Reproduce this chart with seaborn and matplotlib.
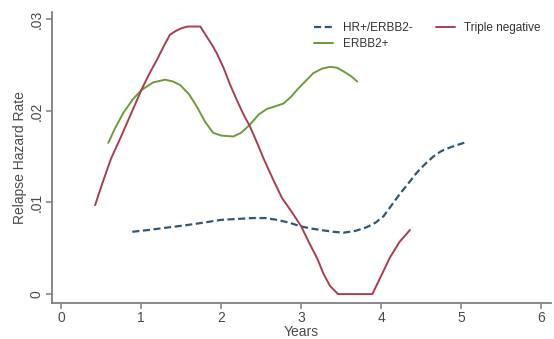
import pandas as pd
import seaborn as sns
import matplotlib.pyplot as plt
from matplotlib.lines import Line2D

# values
hr_years = [0.89, 1.10, 1.36, 1.55, 1.78, 2.00, 2.20, 2.40, 2.55, 2.70, 2.85, 2.99, 3.10, 3.24,
            3.40, 3.53, 3.68, 3.82, 3.93, 4.03, 4.13, 4.24, 4.35, 4.45, 4.55, 4.65, 4.75, 4.86,
            4.96, 5.07]
hr_rate = [0.0068, 0.0070, 0.0073, 0.0075, 0.0078, 0.0081, 0.0082, 0.0083, 0.0083, 0.0081, 0.0078,
           0.0074, 0.0072, 0.0070, 0.0068, 0.0067, 0.0069, 0.0073, 0.0078, 0.0085, 0.0097, 0.0110,
           0.0122, 0.0133, 0.0142, 0.0150, 0.0156, 0.0160, 0.0163, 0.0166]

erbb2_years = [0.59, 0.68, 0.78, 0.90, 1.01, 1.15, 1.30, 1.40, 1.49, 1.60, 1.70, 1.80, 1.90, 2.00,
               2.15, 2.25, 2.36, 2.47, 2.57, 2.68, 2.78, 2.87, 2.95, 3.05, 3.15, 3.26, 3.36, 3.45,
               3.53, 3.62, 3.70]
erbb2_rate = [0.0165, 0.0182, 0.0198, 0.0213, 0.0223, 0.0231, 0.0234, 0.0232, 0.0228, 0.0218,
              0.0204, 0.0188, 0.0176, 0.0173, 0.0172, 0.0176, 0.0185, 0.0196, 0.0202, 0.0205,
              0.0208, 0.0215, 0.0223, 0.0232, 0.0241, 0.0246, 0.0248, 0.0247, 0.0243, 0.0238,
              0.0232]

tn_years = [0.425, 0.52, 0.625, 0.75, 0.88, 1.01, 1.10, 1.20, 1.28, 1.36, 1.43, 1.50, 1.58, 1.74,
            1.82, 1.90, 1.95, 2.03, 2.11, 2.20, 2.28, 2.36, 2.45, 2.53, 2.65, 2.76, 2.88, 3.00,
            3.10, 3.20, 3.28, 3.36, 3.46, 3.89, 4.00, 4.11, 4.23, 4.36]
tn_rate = [0.0097, 0.0122, 0.0148, 0.0172, 0.0198, 0.0224, 0.0240, 0.0256, 0.0270, 0.0283, 0.0287,
           0.0290, 0.0292, 0.0292, 0.0281, 0.0270, 0.0262, 0.0247, 0.0229, 0.0211, 0.0196, 0.0183,
           0.0165, 0.0148, 0.0125, 0.0105, 0.0090, 0.0074, 0.0056, 0.0039, 0.0022, 0.0009, 0.0,
           0.0, 0.0020, 0.0040, 0.0057, 0.0070]

labels = ["HR+/ERBB2-", "ERBB2+", "Triple negative"]
colors = ["#2f5878", "#6e9a3e", "#a63f4f"]

sns.set_style("white")
plt.rcParams["font.family"] = ["Liberation Sans", "DejaVu Sans"]

fig = plt.figure(figsize=(5.54, 3.39), dpi=100)
ax = fig.add_axes([0.094, 0.106, 0.901, 0.859])

sns.lineplot(x=hr_years, y=hr_rate, ax=ax, color=colors[0], linewidth=1.6,
             linestyle=(0, (3.2, 1.6)))
sns.lineplot(x=erbb2_years, y=erbb2_rate, ax=ax, color=colors[1], linewidth=1.4)
sns.lineplot(x=tn_years, y=tn_rate, ax=ax, color=colors[2], linewidth=1.4)

ax.set_xlim(-0.1125, 6.125)
ax.set_ylim(-0.00098, 0.0308)
ax.set_xticks([0, 1, 2, 3, 4, 5, 6])
ax.set_yticks([0, 0.01, 0.02, 0.03])
ax.set_yticklabels(["0", ".01", ".02", ".03"], rotation=90, va="center")

grey = "#7f7f7f"
for side in ["top", "right"]:
    ax.spines[side].set_visible(False)
for side in ["left", "bottom"]:
    ax.spines[side].set_color(grey)
    ax.spines[side].set_linewidth(1.3)
ax.tick_params(axis="both", direction="out", length=4, width=1.1, color=grey,
               labelcolor="#4a4a4a", labelsize=10, left=True, bottom=True, pad=2)

ax.set_xlabel("Years", fontsize=10, color="#4a4a4a", labelpad=0)
ax.set_ylabel("Relapse Hazard Rate", fontsize=10, color="#4a4a4a", labelpad=2)

handles = [
    Line2D([], [], color=colors[0], linewidth=1.6, linestyle=(0, (3.2, 1.6))),
    Line2D([], [], color=colors[1], linewidth=1.4),
    Line2D([], [], color=colors[2], linewidth=1.4),
]
ax.legend(handles, labels, ncol=2, frameon=False, fontsize=8.5, labelcolor="#333333",
          loc="upper right", bbox_to_anchor=(1.0, 1.0), handlelength=1.6,
          columnspacing=2.0, labelspacing=0.3)

fig.savefig("out.png", dpi=100)
